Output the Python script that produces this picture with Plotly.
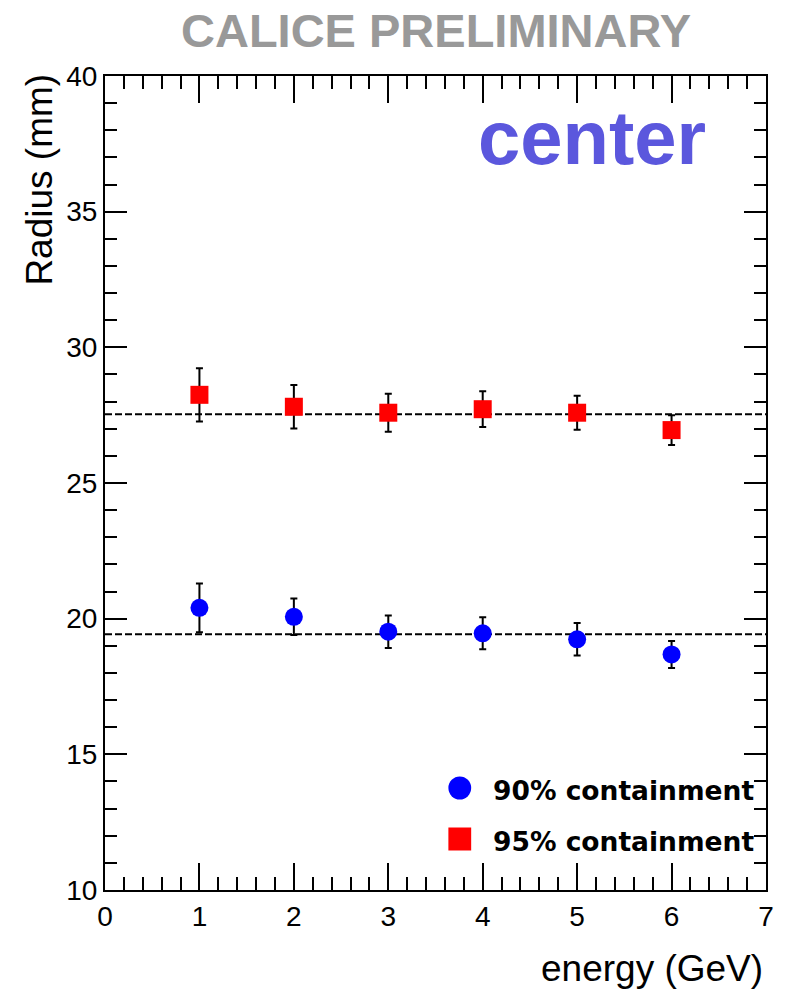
import plotly.graph_objects as go

# Shower radius versus beam energy (CALICE, beam at the centre)
energy = [1, 2, 3, 4, 5, 6]

r90 = [20.40, 20.07, 19.52, 19.46, 19.24, 18.68]
r90_err = [0.90, 0.67, 0.60, 0.59, 0.60, 0.50]

r95 = [28.25, 27.81, 27.59, 27.72, 27.59, 26.95]
r95_err = [0.98, 0.80, 0.70, 0.66, 0.63, 0.55]

# constant fits drawn across the full energy range
fit_x = [0, 7]
fit90 = [19.43, 19.43]
fit95 = [27.53, 27.53]

legend_labels = ["90% containment", "95% containment"]

FONT = "Liberation Sans, Arial, Helvetica, sans-serif"
LEG_FONT = "DejaVu Sans, Liberation Sans, Arial, sans-serif"

# plot area in pixels (for placing the paper-anchored decorations)
W, H = 786, 990
L, R, T, B = 105, 14, 76, 100
PW, PH = W - L - R, H - T - B


def px(xp):
    return (xp - L) / PW


def py(yp):
    return (H - B - yp) / PH


fig = go.Figure()

for fy in (fit95, fit90):
    fig.add_trace(go.Scatter(
        x=fit_x, y=fy, mode="lines",
        line=dict(color="black", width=2, dash="7px,3px"),
        hoverinfo="skip", showlegend=False,
    ))

fig.add_trace(go.Scatter(
    x=energy, y=r95, mode="markers", name=legend_labels[1],
    marker=dict(symbol="square", size=18, color="#ff0000"),
    error_y=dict(type="data", array=r95_err, color="black", thickness=2, width=3.5),
    showlegend=False,
))
fig.add_trace(go.Scatter(
    x=energy, y=r90, mode="markers", name=legend_labels[0],
    marker=dict(symbol="circle", size=18, color="#0000ff"),
    error_y=dict(type="data", array=r90_err, color="black", thickness=2, width=3.5),
    showlegend=False,
))

axis_common = dict(
    showgrid=False, zeroline=False, showline=True, linecolor="black", linewidth=2,
    mirror="allticks", ticks="inside", tickcolor="black", tickwidth=2,
    tickfont=dict(family=FONT, size=28, color="black"),
)

fig.update_xaxes(
    range=[0, 7], dtick=1, tick0=0, ticklen=27,
    minor=dict(dtick=0.2, ticklen=13, ticks="inside", tickcolor="black", tickwidth=2),
    **axis_common,
)
fig.update_yaxes(
    range=[10, 40], dtick=5, tick0=10, ticklen=22,
    minor=dict(dtick=1, ticklen=12, ticks="inside", tickcolor="black", tickwidth=2),
    **axis_common,
)

annotations = [
    dict(text="<b>CALICE PRELIMINARY</b>", xref="paper", yref="paper",
         x=px(439), y=py(30), xanchor="center", yanchor="middle", showarrow=False,
         font=dict(family=FONT, size=47, color="#999999")),
    dict(text="<b>center</b>", xref="paper", yref="paper",
         x=px(713), y=py(137), xanchor="right", yanchor="middle", showarrow=False,
         font=dict(family=FONT, size=76, color="#5b57dd")),
    dict(text="Radius (mm)", xref="paper", yref="paper", textangle=-90,
         x=px(38), y=py(72), xanchor="center", yanchor="top", showarrow=False,
         font=dict(family=FONT, size=37, color="black")),
    dict(text="energy (GeV)", xref="paper", yref="paper",
         x=px(771), y=py(968), xanchor="right", yanchor="middle", showarrow=False,
         font=dict(family=FONT, size=37, color="black")),
]
for lab, yc in zip(legend_labels, (790, 841)):
    annotations.append(dict(
        text="<b>" + lab + "</b>", xref="paper", yref="paper",
        x=px(495), y=py(yc), xanchor="left", yanchor="middle", showarrow=False,
        font=dict(family=LEG_FONT, size=26.5, color="black")))

shapes = [
    dict(type="circle", xref="paper", yref="paper",
         x0=px(463 - 11.5), x1=px(463 + 11.5), y0=py(788 + 11.5), y1=py(788 - 11.5),
         fillcolor="#0000ff", line=dict(width=0)),
    dict(type="rect", xref="paper", yref="paper",
         x0=px(463 - 11.5), x1=px(463 + 11.5), y0=py(839 + 11.5), y1=py(839 - 11.5),
         fillcolor="#ff0000", line=dict(width=0)),
]

fig.update_layout(
    width=W, height=H,
    margin=dict(l=L, r=R, t=T, b=B),
    paper_bgcolor="white", plot_bgcolor="white",
    annotations=annotations, shapes=shapes,
    showlegend=False,
)

fig.write_html("out.html")
